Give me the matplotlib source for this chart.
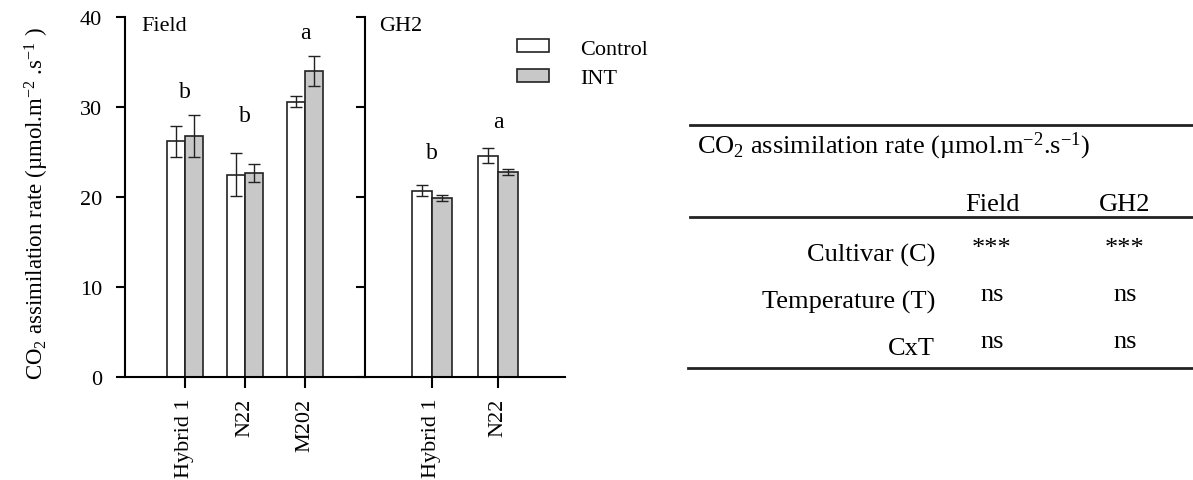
import matplotlib
matplotlib.use("Agg")
import matplotlib.pyplot as plt
from matplotlib.patches import Patch

# Data
field_cultivars = ["Hybrid 1", "N22", "M202"]
field_control = [26.2, 22.5, 30.6]
field_control_err = [1.7, 2.4, 0.6]
field_int = [26.8, 22.7, 34.0]
field_int_err = [2.3, 1.0, 1.7]
field_letters = ["b", "b", "a"]
field_letter_y = [31.7, 29.0, 38.3]

gh2_cultivars = ["Hybrid 1", "N22"]
gh2_control = [20.7, 24.6]
gh2_control_err = [0.6, 0.8]
gh2_int = [19.9, 22.8]
gh2_int_err = [0.3, 0.3]
gh2_letters = ["b", "a"]
gh2_letter_y = [24.9, 28.4]

table_title = r"CO$_2$ assimilation rate (µmol.m$^{\mathregular{-2}}$.s$^{\mathregular{-1}}$)"
table_cols = ["Field", "GH2"]
table_rows = ["Cultivar (C)", "Temperature (T)", "CxT"]
table_vals = [["***", "***"], ["ns", "ns"], ["ns", "ns"]]

plt.rcParams["font.family"] = "Liberation Serif"
plt.rcParams["mathtext.fontset"] = "custom"
plt.rcParams["mathtext.rm"] = "Liberation Serif"
plt.rcParams["mathtext.it"] = "Liberation Serif:italic"
plt.rcParams["axes.linewidth"] = 1.5

W, H = 1193, 481
fig = plt.figure(figsize=(W / 100, H / 100), dpi=100)

def px(l, t, r, b):
    return [l / W, 1 - b / H, (r - l) / W, (b - t) / H]

ax1 = fig.add_axes(px(125, 18, 365, 378))
ax2 = fig.add_axes(px(365, 18, 565, 378))

GRAY = "#c8c8c8"
bw = 0.3

def panel(ax, cultivars, ctl, ctl_err, intv, int_err, letters, letter_y, name, xmax):
    x = list(range(len(cultivars)))
    xc = [i - bw / 2 for i in x]
    xi = [i + bw / 2 for i in x]
    ax.bar(xc, ctl, bw, color="white", edgecolor="#222222", linewidth=1.2, zorder=2)
    ax.bar(xi, intv, bw, color=GRAY, edgecolor="#222222", linewidth=1.2, zorder=2)
    ax.errorbar(xc, ctl, yerr=ctl_err, fmt="none", ecolor="#222222", elinewidth=1, capsize=4, capthick=1, zorder=3)
    ax.errorbar(xi, intv, yerr=int_err, fmt="none", ecolor="#222222", elinewidth=1, capsize=4, capthick=1, zorder=3)
    for i, (t, y) in enumerate(zip(letters, letter_y)):
        ax.text(i, y, t, ha="center", va="center", fontsize=17)
    ax.text(0.07, 0.975, name, transform=ax.transAxes, ha="left", va="center", fontsize=16)
    ax.set_xlim(-1, xmax)
    ax.set_ylim(0, 40)
    ax.set_xticks(x)
    ax.set_xticklabels(cultivars, rotation=90, fontsize=16)
    ax.set_yticks([0, 10, 20, 30, 40])
    ax.spines["top"].set_visible(False)
    ax.spines["right"].set_visible(False)
    ax.tick_params(axis="x", length=8, width=1.5, pad=7)
    ax.tick_params(axis="y", length=6.5, width=1.5, pad=10, labelsize=16)

panel(ax1, field_cultivars, field_control, field_control_err, field_int, field_int_err,
      field_letters, field_letter_y, "Field", 3)
panel(ax2, gh2_cultivars, gh2_control, gh2_control_err, gh2_int, gh2_int_err,
      gh2_letters, gh2_letter_y, "GH2", 2)
ax2.set_yticklabels([])

ax1.set_ylabel(r"CO$_2$ assimilation rate (µmol.m$^{\mathregular{-2}}$ .s$^{\mathregular{-1}}$ )", fontsize=16.5)
ax1.yaxis.set_label_coords(-0.31, 0.483)

handles = [Patch(facecolor="white", edgecolor="#222222", linewidth=1.2, label="Control"),
           Patch(facecolor=GRAY, edgecolor="#222222", linewidth=1.2, label="INT")]
fig.legend(handles=handles, loc="upper left", bbox_to_anchor=(517 / W, 1 - 40 / H),
           frameon=False, fontsize=16, handlelength=1.45, handleheight=0.55,
           handletextpad=1.4, labelspacing=0.45, borderpad=0, borderaxespad=0)

# significance table
tab = fig.add_axes([0, 0, 1, 1])
tab.set_xlim(0, W)
tab.set_ylim(H, 0)
tab.axis("off")
tab.plot([690, W], [126, 126], color="#222222", lw=2)
tab.plot([690, W], [218, 218], color="#222222", lw=2)
tab.plot([688, W], [369, 369], color="#222222", lw=2)
tab.text(697, 153, table_title, ha="left", va="baseline", fontsize=19)
col_x = [992, 1125]
for cx, c in zip(col_x, table_cols):
    tab.text(cx, 211, c, ha="center", va="baseline", fontsize=19)
for r, (lab, vals) in enumerate(zip(table_rows, table_vals)):
    yb = 262 + r * 46.5
    tab.text(935, yb, lab, ha="right", va="baseline", fontsize=19)
    for cx, v in zip(col_x, vals):
        tab.text(cx, yb - 7, v, ha="center", va="baseline", fontsize=19)

fig.savefig("out.png", dpi=100)
